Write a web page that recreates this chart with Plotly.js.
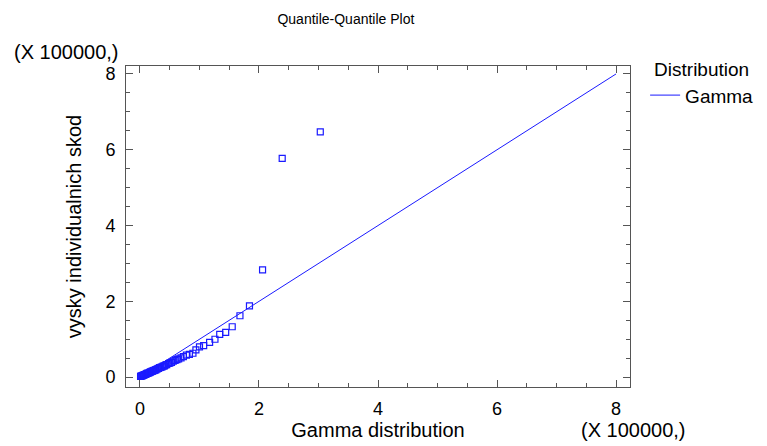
<!DOCTYPE html>
<html>
<head>
<meta charset="utf-8">
<script src="https://cdn.plot.ly/plotly-3.0.1.min.js"></script>
<style>
  html, body { margin: 0; padding: 0; background: #fff; }
  #chart { width: 767px; height: 446px; }
</style>
</head>
<body>
<div id="chart"></div>
<script>
// Theoretical gamma quantiles (x 100000)
const gammaQuantiles = [
  0.01, 0.02, 0.03, 0.04, 0.05, 0.06, 0.07, 0.08, 0.09, 0.10,
  0.11, 0.12, 0.13, 0.14, 0.16, 0.17, 0.18, 0.20, 0.21, 0.23,
  0.24, 0.26, 0.27, 0.29, 0.31, 0.33, 0.35, 0.37, 0.39, 0.41,
  0.43, 0.45, 0.48, 0.50, 0.53, 0.56, 0.59, 0.62, 0.65, 0.69,
  0.73, 0.78, 0.83, 0.89, 0.94, 1.00, 1.07, 1.17, 1.26, 1.34,
  1.44, 1.55, 1.68, 1.84, 2.06, 2.39, 3.03
];
// Sorted observed claim amounts (x 100000)
const claimAmounts = [
  0.02, 0.03, 0.03, 0.04, 0.05, 0.05, 0.06, 0.07, 0.07, 0.08,
  0.09, 0.10, 0.10, 0.11, 0.12, 0.13, 0.14, 0.15, 0.16, 0.17,
  0.18, 0.19, 0.20, 0.22, 0.23, 0.25, 0.26, 0.27, 0.29, 0.30,
  0.32, 0.33, 0.36, 0.37, 0.39, 0.42, 0.44, 0.46, 0.48, 0.51,
  0.54, 0.58, 0.60, 0.63, 0.72, 0.80, 0.83, 0.92, 1.00, 1.13,
  1.18, 1.33, 1.62, 1.88, 2.83, 5.77, 6.47
];
// Reference line for the fitted gamma distribution
const refLineX = [0, 8];
const refLineY = [0, 8];
const tickVals = [0, 2, 4, 6, 8];

const blue = '#1a1aff';
const fontFam = '"Liberation Sans", Arial, sans-serif';

const traces = [
  {
    x: gammaQuantiles, y: claimAmounts,
    type: 'scatter', mode: 'markers',
    marker: { symbol: 'square-open', size: 6, color: blue, line: { width: 1.2, color: blue } },
    showlegend: false, hoverinfo: 'x+y'
  },
  {
    x: refLineX, y: refLineY,
    type: 'scatter', mode: 'lines',
    line: { color: blue, width: 1 },
    name: 'Gamma'
  }
];

const axisCommon = {
  showgrid: false, zeroline: false, automargin: false,
  showline: true, linecolor: '#555', linewidth: 1, mirror: 'ticks',
  ticks: 'inside', ticklen: 7, tickwidth: 1, tickcolor: '#555',
  tickvals: tickVals,
  minor: { dtick: 0.5, ticks: 'inside', ticklen: 4, tickcolor: '#555', tickwidth: 1 },
  tickfont: { family: fontFam, size: 18, color: '#000' }
};

const layout = {
  width: 767, height: 446,
  margin: { l: 126, r: 137, t: 66, b: 59, autoexpand: false },
  paper_bgcolor: '#fff', plot_bgcolor: '#fff',
  font: { family: fontFam, color: '#000' },
  title: {
    text: 'Quantile-Quantile Plot',
    font: { family: fontFam, size: 14, color: '#000' },
    x: 0.451, xref: 'container', xanchor: 'center',
    y: 0.957, yref: 'container', yanchor: 'middle'
  },
  xaxis: Object.assign({}, axisCommon, {
    range: [-0.235, 8.235],
    ticklabelstandoff: 5,
    title: { text: 'Gamma distribution', font: { family: fontFam, size: 20, color: '#000' }, standoff: 4 }
  }),
  yaxis: Object.assign({}, axisCommon, {
    range: [-0.26, 8.21],
    ticklabelstandoff: 6,
    title: { text: 'vysky individualnich skod', font: { family: fontFam, size: 20, color: '#000' }, standoff: 18 }
  }),
  legend: {
    x: 1.03, xanchor: 'left', y: 1.045, yanchor: 'top',
    bgcolor: 'rgba(0,0,0,0)',
    font: { family: fontFam, size: 19, color: '#000' },
    title: { text: 'Distribution', side: 'top center', font: { family: fontFam, size: 19, color: '#000' } }
  },
  annotations: [
    { text: '(X 100000,)', xref: 'paper', yref: 'paper', x: -0.226, y: 1.044,
      xanchor: 'left', yanchor: 'middle', showarrow: false,
      font: { family: fontFam, size: 20, color: '#000' } },
    { text: '(X 100000,)', xref: 'paper', yref: 'paper', x: 0.899, y: -0.134,
      xanchor: 'left', yanchor: 'middle', showarrow: false,
      font: { family: fontFam, size: 20, color: '#000' } }
  ]
};

Plotly.newPlot('chart', traces, layout, { displayModeBar: false, staticPlot: true });
</script>
</body>
</html>
